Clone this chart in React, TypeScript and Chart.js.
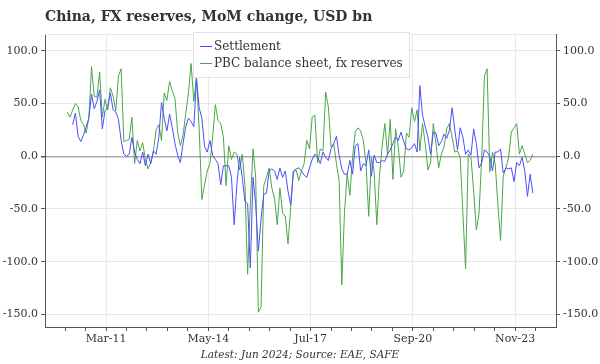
import React, { useEffect, useRef } from 'react';
import { Chart, registerables } from 'chart.js';

Chart.register(...registerables);

const chartTitle = 'China, FX reserves, MoM change, USD bn';
const footerText = 'Latest: Jun 2024; Source: EAE, SAFE';
const seriesNames = ['Settlement', 'PBC balance sheet, fx reserves'];
// x index = months since Jan 2010 (last point Jun 2024)
const xTickLabels = ['Mar-11', 'May-14', 'Jul-17', 'Sep-20', 'Nov-23'];
const xTickMonthIndex = [14, 52, 90, 128, 166];
const yTickValues = [-150, -100, -50, 0, 50, 100];

const settlement: (number | null)[] = [
  null, null, 30, 41, 19, 14, 20, 28, 36, 59,
  45, 52, 63, 26, 43, 47, 60, 44, 42, 35,
  15, 2, 0, 2, 18, 4, -3, -7, 4, -9,
  2, -7, 5, 2, 18, 51, 36, 24, 40, 27,
  12, 1, -6, 12, 28, 36, 33, 28, 73, 46,
  36, 9, 4, 15, 1, -3, -7, -27, -9, -9,
  -9, -20, -65, -27, -1, -20, -43, -45, -106, -20,
  -46, -90, -59, -36, -35, -14, -12, -14, -22, -11,
  -20, -14, -33, -46, -14, -12, -11, -14, -18, -20,
  -11, -3, 2, -1, -7, 4, -1, -4, 7, 12,
  19, 1, -12, -17, -17, -4, -17, 10, 12, -14,
  -7, -9, 6, -19, 1, -6, -6, -4, -5, 2,
  6, 12, 18, 15, 23, 14, 7, 6, 8, 12,
  4, 67, 39, 28, 18, 2, 23, 22, 10, 14,
  21, 17, 25, 46, 25, 6, 27, 18, 2, 6,
  1, 26, 12, -11, -6, 6, 4, 0, -14, 4,
  4, 7, -16, -11, -12, -11, -24, -6, -9, -1,
  -14, -38, -17, -35,
];

const pbcReserves: number[] = [
  42, 37, 44, 50, 47, 34, 30, 22, 37, 85,
  57, 56, 80, 37, 54, 44, 65, 57, 43, 76,
  83, 14, 15, 16, 37, -7, 15, 5, 13, -3,
  -12, -6, 5, 25, 30, 15, 60, 53, 71, 62,
  55, 23, 10, 20, 40, 60, 88, 52, 76, 25,
  -41, -27, -14, -7, 18, 49, 34, 31, 18, -28,
  10, -3, 4, 2, -13, 2, -27, -112, -46, 7,
  -20, -148, -143, -28, -20, -11, -30, -40, -65, -30,
  -54, -57, -83, -49, -15, -13, -23, -14, -7, 15,
  7, 37, 39, -6, 7, 5, 61, 47, 9, 12,
  -7, -23, -122, -53, -17, -37, -1, 23, 27, 24,
  15, -7, -57, -1, -14, -65, -19, 10, 31, 1,
  35, -22, 26, 9, -20, -14, 22, 18, 46, 33,
  44, 5, 31, 12, -13, -6, 31, 12, -11, 2,
  9, 26, 31, 18, 4, 5, -1, -54, -107, 2,
  -1, -33, -70, -54, -1, 76, 83, -15, 4, -7,
  -46, -80, -19, -11, -1, 23, 27, 31, 2, 10,
  2, -6, -4, 2,
];

const FONT = '"DejaVu Serif", serif';
const TEXT = '#333333';
const AXIS = '#555555';
const GRID = '#e8e8e8';
const BLUE = '#4d4dff';
const GREEN = '#4aa64a';

const TICK_OFFSET = 0.4;
const majorTicks = xTickMonthIndex.map((m) => m + TICK_OFFSET);
const minorStep = (majorTicks[1] - majorTicks[0]) / 5;
const allXTicks: number[] = [];
for (let j = -2; j <= 21; j++) allXTicks.push(majorTicks[0] + j * minorStep);

const majorIndex = (v: number) => majorTicks.findIndex((t) => Math.abs(t - v) < 0.01);

const decorPlugin = {
  id: 'decor',
  afterDraw(chart: any) {
    const { ctx, chartArea: a } = chart;
    ctx.save();
    ctx.strokeStyle = GRID;
    ctx.lineWidth = 1;
    ctx.beginPath();
    ctx.moveTo(a.left, a.top + 0.5);
    ctx.lineTo(a.right, a.top + 0.5);
    ctx.stroke();

    ctx.fillStyle = TEXT;
    ctx.textBaseline = 'middle';
    ctx.textAlign = 'left';
    ctx.font = `bold 14px ${FONT}`;
    ctx.fillText(chartTitle, 45, 17);

    ctx.font = `italic 10.5px ${FONT}`;
    ctx.textAlign = 'center';
    ctx.fillText(footerText, 300, 355);

    // legend
    const lx = 193, ly = 32, lw = 216, lh = 45;
    ctx.fillStyle = 'rgba(255,255,255,0.92)';
    ctx.fillRect(lx, ly, lw, lh);
    ctx.strokeStyle = '#e2e2e2';
    ctx.strokeRect(lx + 0.5, ly + 0.5, lw, lh);
    ctx.font = `12px ${FONT}`;
    ctx.textAlign = 'left';
    chart.data.datasets.forEach((ds: any, k: number) => {
      const y = 46 + k * 17;
      ctx.strokeStyle = ds.borderColor;
      ctx.lineWidth = 1;
      ctx.beginPath();
      ctx.moveTo(200, y + 0.5);
      ctx.lineTo(212, y + 0.5);
      ctx.stroke();
      ctx.fillStyle = TEXT;
      ctx.fillText(ds.label, 214, y + 1);
    });
    ctx.restore();
  },
};

export default function App() {
  const canvasRef = useRef<HTMLCanvasElement | null>(null);

  useEffect(() => {
    if (!canvasRef.current) return;
    const yTickOpts = {
      font: { family: FONT, size: 11 },
      color: TEXT,
      padding: 3,
      callback: (v: any) => Number(v).toFixed(1),
    };
    const chart = new Chart(canvasRef.current, {
      type: 'line',
      data: {
        datasets: [
          {
            label: seriesNames[0],
            data: settlement.map((v, i) => ({ x: i, y: v })),
            borderColor: BLUE,
            borderWidth: 1,
            pointRadius: 0,
            tension: 0,
          },
          {
            label: seriesNames[1],
            data: pbcReserves.map((v, i) => ({ x: i, y: v })),
            borderColor: GREEN,
            borderWidth: 1,
            pointRadius: 0,
            tension: 0,
          },
        ],
      },
      options: {
        animation: false,
        responsive: false,
        devicePixelRatio: 1,
        layout: { padding: { top: 34, bottom: 15, left: 0, right: 0 } },
        plugins: { legend: { display: false }, tooltip: { enabled: false }, title: { display: false } },
        scales: {
          x: {
            type: 'linear',
            min: -8.3,
            max: 181.6,
            afterBuildTicks: (s: any) => {
              s.ticks = allXTicks.filter((v) => v >= -8.3 && v <= 181).map((v) => ({ value: v }));
            },
            afterFit: (s: any) => {
              s.height = 22;
            },
            ticks: {
              autoSkip: false,
              maxRotation: 0,
              minRotation: 0,
              padding: 2,
              font: { family: FONT, size: 11 },
              color: TEXT,
              callback: (v: any) => {
                const k = majorIndex(Number(v));
                return k >= 0 ? xTickLabels[k] : '';
              },
            },
            grid: {
              color: (c: any) => (c.tick && majorIndex(c.tick.value) >= 0 ? GRID : 'rgba(0,0,0,0)'),
              tickColor: AXIS,
              tickLength: 4,
              lineWidth: 1,
            },
            border: { color: AXIS, width: 1 },
          },
          y: {
            position: 'left',
            min: -162,
            max: 116,
            afterBuildTicks: (s: any) => {
              s.ticks = yTickValues.map((v) => ({ value: v }));
            },
            afterFit: (s: any) => {
              s.width = 45;
            },
            ticks: yTickOpts,
            grid: {
              color: (c: any) => (c.tick && c.tick.value === 0 ? '#aaaaaa' : GRID),
              lineWidth: (c: any) => (c.tick && c.tick.value === 0 ? 1.5 : 1),
              tickColor: AXIS,
              tickLength: 4,
            },
            border: { color: AXIS, width: 1 },
          },
          y2: {
            position: 'right',
            min: -162,
            max: 116,
            afterBuildTicks: (s: any) => {
              s.ticks = yTickValues.map((v) => ({ value: v }));
            },
            afterFit: (s: any) => {
              s.width = 44;
            },
            ticks: yTickOpts,
            grid: { drawOnChartArea: false, tickColor: AXIS, tickLength: 4 },
            border: { color: AXIS, width: 1 },
          },
        },
      },
      plugins: [decorPlugin],
    } as any);
    return () => chart.destroy();
  }, []);

  return (
    <div style={{ position: 'absolute', left: 0, top: 0, width: 600, height: 364, background: '#fff' }}>
      <canvas ref={canvasRef} width={600} height={364} />
    </div>
  );
}
